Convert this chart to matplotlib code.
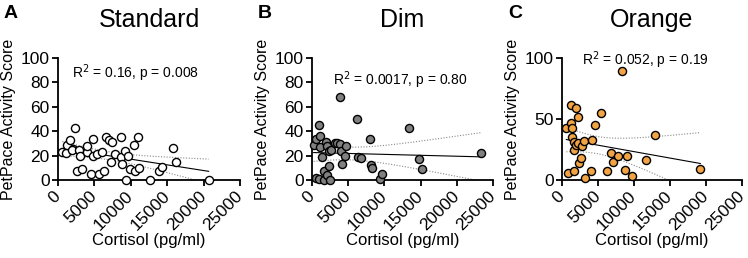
import numpy as np
import matplotlib
matplotlib.use("Agg")
import matplotlib.pyplot as plt

plt.rcParams['font.family'] = ['Liberation Sans', 'DejaVu Sans']

# ---- data ----
std_x = [600, 1060, 1240, 1610, 2070, 1980, 2300, 2630, 2900, 3000, 3320, 4000, 4050,
         4500, 4750, 4840, 5300, 5670, 6080, 6270, 6590, 7000, 7280, 7370, 7830, 8710,
         8710, 8800, 9260, 9300, 9630, 9900, 10500, 10600, 10970, 11060, 12670, 13870,
         14290, 15760, 16170, 20690]
std_y = [23, 22, 29, 33, 25.5, 25, 43, 7.7, 25, 19.7, 9, 23, 28,
         5, 34, 20, 21.4, 5, 23, 7, 35, 33, 15, 31, 21, 35,
         19, 13, 24, 0, 19.7, 9.3, 29, 7.7, 35, 10, 0, 7,
         11, 26, 15, 0]

dim_x = [230, 600, 970, 1060, 510, 970, 1060, 1390, 1620, 1660, 1990, 2080, 2130,
         2310, 2360, 2540, 2590, 3190, 3470, 3880, 3880, 3970, 4110, 4530, 4670,
         6240, 6380, 6750, 8000, 8130, 8220, 9380, 9610, 13450, 14830, 15160, 23380]
dim_y = [29, 33.7, 44.7, 36, 2, 1, 27.4, 19, 0, 7.7, 31.5, 3.8, 28,
         23.6, 11.8, 0, 24.7, 30, 30, 68, 29.6, 23.6, 13, 20, 28,
         50, 19, 17.8, 34, 12, 10, 0.5, 5, 42.7, 17, 9, 22]

org_x = [600, 790, 1200, 1440, 1300, 1390, 1620, 1670, 1620, 1900, 2000, 2220, 2360,
         2220, 2690, 2820, 3060, 3150, 4070, 4210, 4540, 5460, 6300, 6760, 7080,
         7780, 8380, 8700, 9030, 9770, 11710, 12870, 19210]
org_y = [42.9, 5.8, 61.3, 35.4, 46.7, 42.6, 31, 7.1, 24.5, 59, 29, 52, 14.3,
         30, 17.9, 28, 32, 1.4, 7.1, 32.4, 45.3, 55, 7.1, 22, 14.8,
         20, 89, 8.2, 20, 3.3, 16, 37, 9]

panels = ["A", "B", "C"]
titles = ["Standard", "Dim", "Orange"]
stats = ["R$^2$ = 0.16, p = 0.008", "R$^2$ = 0.0017, p = 0.80", "R$^2$ = 0.052, p = 0.19"]
x_ticks = [0, 5000, 10000, 15000, 20000, 25000]
y_ticks_list = [[0, 20, 40, 60, 80, 100], [0, 20, 40, 60, 80, 100], [0, 50, 100]]
face_colors = ["white", "#808080", "#F2A444"]

datasets = [(std_x, std_y), (dim_x, dim_y), (org_x, org_y)]

fig = plt.figure(figsize=(7.48, 2.58), dpi=100)
lefts = [58, 312, 562]
widths = [182, 181, 180]
stat_pos = [(0.077, 0.877), (0.116, 0.82), (0.11, 0.98)]
W, H = 748, 258

for i in range(3):
    ax = fig.add_axes([lefts[i] / W, 1 - 180 / H, widths[i] / W, 122 / H])
    x = np.array(datasets[i][0], float)
    y = np.array(datasets[i][1], float)
    ax.scatter(x, y, s=34, facecolor=face_colors[i], edgecolor="black",
               linewidth=1.0, zorder=3, clip_on=False)
    # linear regression with 95% confidence bands
    n = len(x)
    b, a = np.polyfit(x, y, 1)
    xs = np.linspace(x.min(), x.max(), 200)
    yhat = a + b * xs
    resid = y - (a + b * x)
    s = np.sqrt(np.sum(resid ** 2) / (n - 2))
    tcrit = 2.03
    se = s * np.sqrt(1 / n + (xs - x.mean()) ** 2 / np.sum((x - x.mean()) ** 2))
    ax.plot(xs, yhat, color="black", lw=0.8, zorder=2)
    ax.plot(xs, yhat + tcrit * se, color="#888888", lw=0.8, ls=(0, (1, 1.5)), zorder=2)
    ax.plot(xs, yhat - tcrit * se, color="#888888", lw=0.8, ls=(0, (1, 1.5)), zorder=2)

    ax.set_xlim(0, 25000)
    ax.set_ylim(0, 100)
    ax.set_xticks(x_ticks)
    ax.set_xticklabels([str(t) for t in x_ticks], rotation=45, ha="right",
                       va="center", rotation_mode="anchor", fontsize=12.5)
    ax.set_yticks(y_ticks_list[i])
    ax.set_yticklabels([str(t) for t in y_ticks_list[i]], fontsize=12.5)
    for sp in ["top", "right"]:
        ax.spines[sp].set_visible(False)
    for sp in ["left", "bottom"]:
        ax.spines[sp].set_linewidth(1.3)
    ax.tick_params(width=1.3, length=4, direction="out", pad=2)
    ax.tick_params(axis="x", pad=6)
    ax.set_xlabel("Cortisol (pg/ml)", fontsize=12, labelpad=0)
    ax.set_ylabel("PetPace Activity Score", fontsize=11.5, labelpad=3)
    ax.set_title(titles[i], fontsize=18, pad=22)
    ax.text(stat_pos[i][0], stat_pos[i][1], stats[i], transform=ax.transAxes,
            fontsize=10, va="center", ha="left")
    fig.text((lefts[i] - 57) / W + 0.004, 1 - 13 / H, panels[i],
             fontsize=14, fontweight="bold", va="center", ha="left")

fig.savefig("out.png", dpi=100)
